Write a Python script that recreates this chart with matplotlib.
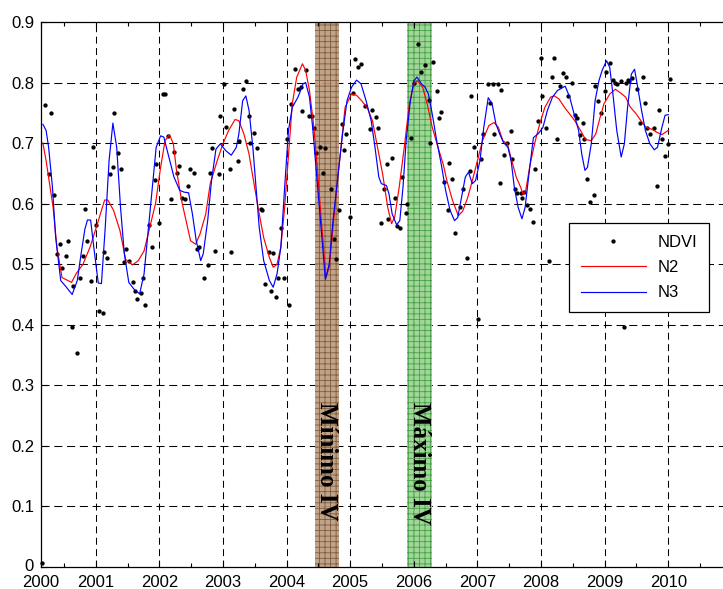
import matplotlib
matplotlib.use("Agg")
import matplotlib.pyplot as plt
import matplotlib.transforms as mtransforms
import numpy as np

plt.rcParams['font.family'] = ['Liberation Sans', 'DejaVu Sans']
plt.rcParams['lines.scale_dashes'] = False
plt.rcParams['hatch.linewidth'] = 0.6

# ---------------- data ----------------
ndvi_t = [2000.16, 2000.21, 2000.26, 2000.29, 2000.34, 2000.39, 2000.44, 2000.47, 2000.53, 2000.57,
          2000.62, 2000.65, 2000.70, 2000.75, 2000.80, 2000.83, 2000.87, 2000.92, 2000.95, 2001.00,
          2001.05, 2001.11, 2001.13, 2001.17, 2001.22, 2001.27, 2001.29, 2001.35, 2001.40, 2001.44,
          2001.47, 2001.53, 2001.58, 2001.62, 2001.65, 2001.71, 2001.75, 2001.78, 2001.83, 2001.88,
          2001.93, 2001.95, 2002.00, 2002.05, 2002.09, 2002.13, 2002.18, 2002.23, 2002.27, 2002.31,
          2002.36, 2002.40, 2002.45, 2002.48, 2002.54, 2002.59, 2002.62, 2002.71, 2002.76, 2002.79,
          2002.83, 2002.88, 2002.94, 2002.96, 2003.01, 2003.05, 2003.11, 2003.13, 2003.18, 2003.24,
          2003.25, 2003.31, 2003.36, 2003.41, 2003.43, 2003.49, 2003.54, 2003.60, 2003.62, 2003.66,
          2003.72, 2003.76, 2003.79, 2003.83, 2003.87, 2003.92, 2003.96, 2004.00, 2004.04, 2004.07,
          2004.13, 2004.18, 2004.22, 2004.25, 2004.30, 2004.35, 2004.40, 2004.43, 2004.47, 2004.53,
          2004.58, 2004.60, 2004.70, 2004.75, 2004.77, 2004.83, 2004.87, 2004.91, 2004.94, 2004.99,
          2005.04, 2005.08, 2005.13, 2005.17, 2005.24, 2005.31, 2005.35, 2005.40, 2005.43, 2005.48,
          2005.53, 2005.58, 2005.60, 2005.65, 2005.71, 2005.73, 2005.78, 2005.82, 2005.87, 2005.90,
          2005.95, 2006.01, 2006.07, 2006.12, 2006.18, 2006.24, 2006.25, 2006.30, 2006.36, 2006.39,
          2006.43, 2006.48, 2006.53, 2006.55, 2006.60, 2006.64, 2006.72, 2006.77, 2006.83, 2006.88,
          2006.90, 2006.95, 2007.01, 2007.06, 2007.09, 2007.17, 2007.19, 2007.25, 2007.26, 2007.32,
          2007.35, 2007.37, 2007.42, 2007.47, 2007.53, 2007.54, 2007.59, 2007.63, 2007.68, 2007.70,
          2007.73, 2007.78, 2007.82, 2007.87, 2007.90, 2007.96, 2008.00, 2008.02, 2008.08, 2008.13,
          2008.18, 2008.21, 2008.25, 2008.30, 2008.35, 2008.39, 2008.43, 2008.48, 2008.53, 2008.57,
          2008.61, 2008.66, 2008.68, 2008.72, 2008.77, 2008.83, 2008.85, 2008.90, 2008.95, 2009.00,
          2009.02, 2009.08, 2009.13, 2009.17, 2009.19, 2009.26, 2009.30, 2009.34, 2009.36, 2009.39,
          2009.43, 2009.51, 2009.55, 2009.60, 2009.64, 2009.66, 2009.72, 2009.77, 2009.82, 2009.85,
          2009.90, 2009.95, 2010.00, 2010.02]
ndvi_v = [0.006, 0.763, 0.649, 0.749, 0.615, 0.517, 0.533, 0.494, 0.513, 0.539,
          0.397, 0.464, 0.354, 0.477, 0.513, 0.591, 0.539, 0.473, 0.694, 0.565,
          0.423, 0.420, 0.520, 0.511, 0.649, 0.660, 0.749, 0.683, 0.657, 0.504,
          0.525, 0.505, 0.470, 0.456, 0.443, 0.452, 0.477, 0.432, 0.564, 0.528,
          0.639, 0.665, 0.568, 0.781, 0.781, 0.712, 0.607, 0.686, 0.651, 0.662,
          0.609, 0.607, 0.630, 0.657, 0.651, 0.525, 0.528, 0.478, 0.499, 0.651,
          0.692, 0.522, 0.649, 0.744, 0.797, 0.727, 0.657, 0.520, 0.757, 0.671,
          0.704, 0.789, 0.802, 0.744, 0.700, 0.717, 0.692, 0.591, 0.589, 0.467,
          0.520, 0.456, 0.518, 0.446, 0.477, 0.559, 0.477, 0.707, 0.433, 0.765,
          0.823, 0.789, 0.792, 0.753, 0.821, 0.744, 0.744, 0.725, 0.684, 0.694,
          0.651, 0.692, 0.625, 0.541, 0.509, 0.590, 0.731, 0.689, 0.715, 0.578,
          0.783, 0.839, 0.825, 0.831, 0.761, 0.723, 0.754, 0.743, 0.725, 0.568,
          0.625, 0.665, 0.574, 0.676, 0.609, 0.563, 0.559, 0.644, 0.584, 0.600,
          0.709, 0.800, 0.863, 0.818, 0.829, 0.772, 0.700, 0.834, 0.786, 0.741,
          0.752, 0.635, 0.590, 0.667, 0.640, 0.552, 0.595, 0.625, 0.511, 0.654,
          0.778, 0.693, 0.409, 0.673, 0.715, 0.797, 0.766, 0.798, 0.715, 0.798,
          0.634, 0.787, 0.680, 0.700, 0.720, 0.673, 0.625, 0.618, 0.618, 0.609,
          0.620, 0.598, 0.591, 0.570, 0.657, 0.736, 0.841, 0.778, 0.725, 0.505,
          0.810, 0.841, 0.707, 0.795, 0.815, 0.810, 0.778, 0.799, 0.746, 0.742,
          0.713, 0.733, 0.707, 0.641, 0.602, 0.615, 0.795, 0.770, 0.749, 0.786,
          0.818, 0.833, 0.805, 0.800, 0.798, 0.802, 0.397, 0.800, 0.805, 0.803,
          0.808, 0.789, 0.734, 0.810, 0.766, 0.725, 0.715, 0.725, 0.630, 0.755,
          0.706, 0.678, 0.698, 0.806]

n2_t = [2000.17, 2000.22, 2000.33, 2000.39, 2000.47, 2000.62, 2000.69, 2000.80, 2000.91, 2001.01,
        2001.14, 2001.19, 2001.28, 2001.38, 2001.47, 2001.58, 2001.67, 2001.76, 2001.85, 2001.94,
        2002.02, 2002.09, 2002.16, 2002.22, 2002.27, 2002.35, 2002.42, 2002.49, 2002.57, 2002.64,
        2002.73, 2002.80, 2002.91, 2003.00, 2003.09, 2003.19, 2003.25, 2003.33, 2003.41, 2003.48,
        2003.56, 2003.64, 2003.73, 2003.79, 2003.85, 2003.91, 2003.97, 2004.04, 2004.09, 2004.16,
        2004.25, 2004.30, 2004.36, 2004.43, 2004.49, 2004.55, 2004.62, 2004.67, 2004.72, 2004.80,
        2004.86, 2004.92, 2005.02, 2005.10, 2005.18, 2005.27, 2005.35, 2005.43, 2005.51, 2005.59,
        2005.65, 2005.70, 2005.77, 2005.85, 2005.93, 2006.00, 2006.06, 2006.14, 2006.21, 2006.29,
        2006.38, 2006.46, 2006.52, 2006.61, 2006.70, 2006.77, 2006.85, 2006.92, 2007.00, 2007.08,
        2007.18, 2007.26, 2007.33, 2007.40, 2007.47, 2007.54, 2007.61, 2007.68, 2007.72, 2007.76,
        2007.83, 2007.91, 2007.98, 2008.06, 2008.15, 2008.21, 2008.28, 2008.37, 2008.45, 2008.53,
        2008.62, 2008.70, 2008.79, 2008.86, 2008.93, 2008.99, 2009.08, 2009.17, 2009.26, 2009.33,
        2009.40, 2009.49, 2009.57, 2009.65, 2009.74, 2009.82, 2009.90, 2010.00]
n2_v = [0.700, 0.671, 0.594, 0.528, 0.478, 0.470, 0.484, 0.500, 0.528, 0.561,
        0.606, 0.606, 0.589, 0.556, 0.508, 0.499, 0.506, 0.522, 0.561, 0.600,
        0.660, 0.704, 0.714, 0.699, 0.655, 0.605, 0.572, 0.539, 0.533, 0.550,
        0.583, 0.633, 0.671, 0.699, 0.721, 0.739, 0.737, 0.715, 0.682, 0.638,
        0.589, 0.544, 0.511, 0.495, 0.500, 0.528, 0.594, 0.693, 0.765, 0.809,
        0.831, 0.820, 0.787, 0.726, 0.649, 0.567, 0.478, 0.495, 0.550, 0.638,
        0.699, 0.759, 0.781, 0.779, 0.770, 0.758, 0.737, 0.693, 0.649, 0.594,
        0.567, 0.578, 0.627, 0.693, 0.765, 0.798, 0.803, 0.792, 0.765, 0.726,
        0.693, 0.666, 0.638, 0.605, 0.580, 0.588, 0.611, 0.638, 0.671, 0.704,
        0.729, 0.734, 0.726, 0.704, 0.699, 0.671, 0.644, 0.627, 0.615, 0.622,
        0.666, 0.704, 0.732, 0.759, 0.776, 0.778, 0.773, 0.759, 0.748, 0.737,
        0.721, 0.706, 0.704, 0.715, 0.743, 0.765, 0.781, 0.789, 0.782, 0.776,
        0.760, 0.749, 0.737, 0.726, 0.723, 0.718, 0.714, 0.721]

n3_t = [2000.17, 2000.22, 2000.26, 2000.32, 2000.37, 2000.45, 2000.54, 2000.63, 2000.71, 2000.77,
        2000.83, 2000.87, 2000.92, 2000.97, 2001.04, 2001.09, 2001.15, 2001.21, 2001.27, 2001.33,
        2001.39, 2001.45, 2001.52, 2001.60, 2001.69, 2001.76, 2001.82, 2001.89, 2001.95, 2002.02,
        2002.07, 2002.15, 2002.23, 2002.32, 2002.39, 2002.46, 2002.52, 2002.58, 2002.65, 2002.69,
        2002.76, 2002.82, 2002.89, 2002.96, 2003.04, 2003.13, 2003.21, 2003.25, 2003.31, 2003.36,
        2003.41, 2003.47, 2003.52, 2003.57, 2003.64, 2003.73, 2003.79, 2003.85, 2003.91, 2003.97,
        2004.03, 2004.09, 2004.18, 2004.26, 2004.30, 2004.36, 2004.41, 2004.48, 2004.54, 2004.61,
        2004.67, 2004.73, 2004.81, 2004.88, 2004.95, 2005.02, 2005.10, 2005.17, 2005.25, 2005.33,
        2005.39, 2005.45, 2005.49, 2005.57, 2005.61, 2005.66, 2005.73, 2005.78, 2005.83, 2005.88,
        2005.94, 2006.00, 2006.05, 2006.12, 2006.18, 2006.23, 2006.29, 2006.36, 2006.43, 2006.50,
        2006.57, 2006.64, 2006.69, 2006.74, 2006.81, 2006.86, 2006.92, 2006.97, 2007.04, 2007.10,
        2007.17, 2007.23, 2007.29, 2007.35, 2007.41, 2007.48, 2007.53, 2007.58, 2007.64, 2007.70,
        2007.75, 2007.81, 2007.88, 2007.96, 2008.03, 2008.10, 2008.18, 2008.26, 2008.38, 2008.45,
        2008.52, 2008.59, 2008.64, 2008.69, 2008.73, 2008.79, 2008.85, 2008.91, 2008.96, 2009.03,
        2009.08, 2009.13, 2009.19, 2009.26, 2009.31, 2009.36, 2009.42, 2009.47, 2009.52, 2009.58,
        2009.64, 2009.71, 2009.78, 2009.83, 2009.90, 2009.95, 2010.00]
n3_v = [0.731, 0.721, 0.693, 0.627, 0.545, 0.473, 0.462, 0.450, 0.473, 0.517,
        0.558, 0.573, 0.573, 0.528, 0.469, 0.468, 0.561, 0.671, 0.733, 0.693,
        0.594, 0.517, 0.470, 0.459, 0.451, 0.484, 0.550, 0.627, 0.693, 0.712,
        0.710, 0.677, 0.644, 0.622, 0.619, 0.618, 0.583, 0.539, 0.506, 0.517,
        0.572, 0.638, 0.690, 0.699, 0.688, 0.680, 0.693, 0.715, 0.770, 0.778,
        0.754, 0.693, 0.627, 0.561, 0.506, 0.473, 0.462, 0.484, 0.528, 0.627,
        0.721, 0.759, 0.776, 0.798, 0.800, 0.776, 0.726, 0.638, 0.561, 0.475,
        0.500, 0.572, 0.649, 0.715, 0.770, 0.792, 0.804, 0.798, 0.770, 0.737,
        0.693, 0.644, 0.633, 0.630, 0.616, 0.583, 0.565, 0.572, 0.627, 0.704,
        0.765, 0.803, 0.809, 0.798, 0.792, 0.781, 0.748, 0.704, 0.666, 0.622,
        0.589, 0.572, 0.577, 0.605, 0.644, 0.652, 0.633, 0.638, 0.671, 0.726,
        0.775, 0.765, 0.732, 0.715, 0.701, 0.693, 0.671, 0.627, 0.594, 0.575,
        0.594, 0.649, 0.709, 0.716, 0.726, 0.754, 0.776, 0.787, 0.794, 0.776,
        0.748, 0.721, 0.682, 0.655, 0.660, 0.699, 0.770, 0.803, 0.820, 0.836,
        0.825, 0.781, 0.721, 0.677, 0.699, 0.759, 0.814, 0.822, 0.792, 0.754,
        0.721, 0.699, 0.689, 0.693, 0.726, 0.746, 0.747]

min_band = (2004.44, 2004.83)
max_band = (2005.90, 2006.29)
year_ticks = [2000.14, 2001, 2002, 2003, 2004, 2005, 2006, 2007, 2008, 2009, 2010]
year_labels = ['2000', '2001', '2002', '2003', '2004', '2005', '2006', '2007', '2008', '2009', '2010']
y_ticks = [0, 0.1, 0.2, 0.3, 0.4, 0.5, 0.6, 0.7, 0.8, 0.9]
y_labels = ['0', '0.1', '0.2', '0.3', '0.4', '0.5', '0.6', '0.7', '0.8', '0.9']

# ---------------- figure ----------------
fig = plt.figure(figsize=(7.23, 5.89), dpi=100)
ax = fig.add_axes([41/723, 22/589, 683/723, 545/589])
ax.set_xlim(2000.14, 2010.876)
ax.set_ylim(0, 0.9)

# grid
for yv in y_ticks[1:-1]:
    ax.axhline(yv, color='k', lw=0.75, ls=(0, (5.8, 3.4)), zorder=0.5)
for xv in year_ticks[1:]:
    ax.axvline(xv, color='k', lw=0.75, ls=(0, (5.0, 3.2)), zorder=0.5)

# bands
ax.axvspan(*min_band, facecolor='#bb9c80', edgecolor='#7a5536', hatch='+++',
           lw=0, zorder=1, alpha=0.92)
ax.axvspan(*max_band, facecolor='#98d490', edgecolor='#3f9a3f', hatch='+++',
           lw=0, zorder=1, alpha=0.92)

ax.text(np.mean(min_band), 0.272, 'Mínimo IV', rotation=-90, ha='center', va='top',
        family=['Liberation Serif', 'DejaVu Serif'], weight='bold', fontsize=18, zorder=5)
ax.text(np.mean(max_band), 0.272, 'Máximo IV', rotation=-90, ha='center', va='top',
        family=['Liberation Serif', 'DejaVu Serif'], weight='bold', fontsize=18, zorder=5)

ax.plot(ndvi_t, ndvi_v, ls='none', marker='o', ms=2.1, color='k', label='NDVI',
        zorder=3, clip_on=False)
ax.plot(n2_t, n2_v, color='#ff0000', lw=0.85, label='N2', zorder=4)
ax.plot(n3_t, n3_v, color='#0000ff', lw=0.85, label='N3', zorder=4.5)

ax.set_xticks(year_ticks)
ax.set_xticklabels(year_labels)
ax.set_xticks(np.arange(2000.5, 2011, 1.0), minor=True)
ax.set_yticks(y_ticks)
ax.set_yticklabels(y_labels)
ax.tick_params(axis='both', which='both', direction='in', top=True, right=False,
               labelsize=12, colors='k')
ax.tick_params(axis='both', which='major', length=4.5, width=0.8)
ax.tick_params(axis='x', which='minor', length=3, width=0.8)
ax.tick_params(axis='x', pad=5.5)
ax.tick_params(axis='y', pad=5)
for side in ['left', 'bottom', 'top']:
    ax.spines[side].set_linewidth(0.9)
ax.spines['right'].set_visible(False)

# nudge the "0" label up a touch, as in the reference where it sits clear of "2000"
zero_lbl = ax.get_yticklabels()[0]
zero_lbl.set_transform(zero_lbl.get_transform() +
                       mtransforms.ScaledTranslation(0, 2/100, fig.dpi_scale_trans))

leg = ax.legend(loc='upper left', bbox_to_anchor=(0.773, 0.631), fontsize=12,
                frameon=True, fancybox=False, framealpha=1, edgecolor='k',
                handlelength=3.9, handletextpad=0.7, borderpad=0.7,
                labelspacing=0.62, numpoints=1, borderaxespad=0)
leg.get_frame().set_linewidth(0.9)
leg.set_zorder(10)

fig.savefig('out.png', dpi=100, facecolor='white')
